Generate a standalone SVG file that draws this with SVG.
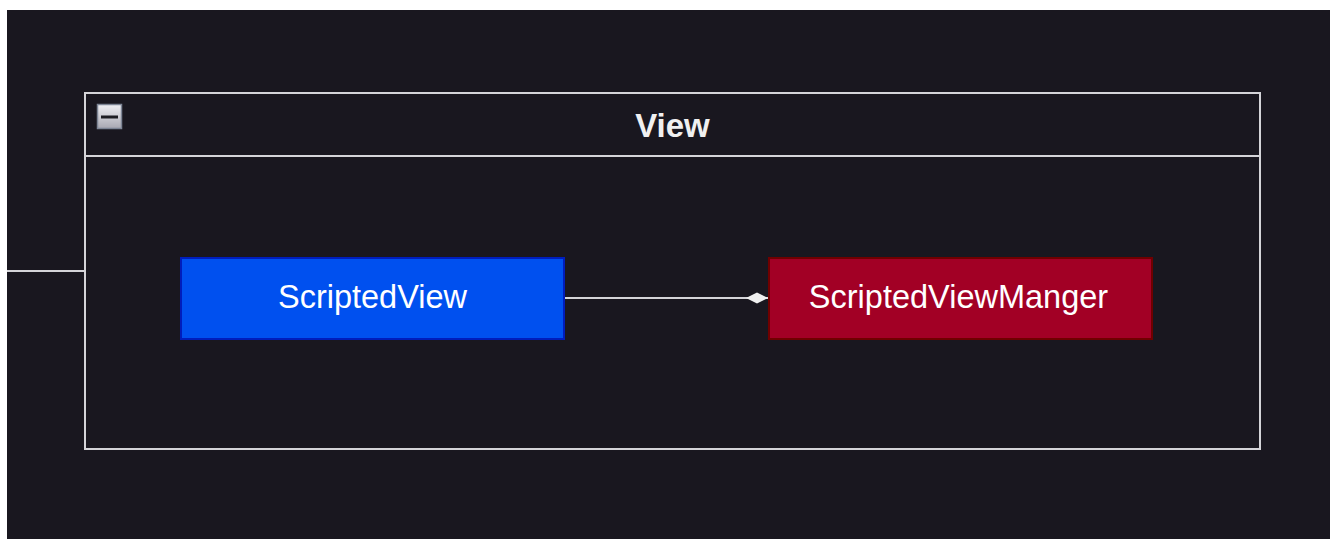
<svg xmlns="http://www.w3.org/2000/svg" width="1330" height="539" viewBox="0 0 1330 539">
  <style>
    .frame { fill: none; stroke: #d4d4d8; stroke-width: 2; }
    .edge { fill: none; stroke: #d4d4d8; stroke-width: 2; }
    .label { font-family: "Liberation Sans", Arial, sans-serif; font-size: 32.5px; fill: #ffffff; text-anchor: middle; }
    .title { font-family: "Liberation Sans", Arial, sans-serif; font-size: 33px; font-weight: bold; fill: #f0f0f0; text-anchor: middle; }
  </style>
  <defs>
    <linearGradient id="btnGrad" x1="0" y1="0" x2="0" y2="1">
      <stop offset="0" stop-color="#f0f0f4"/>
      <stop offset="1" stop-color="#a8a8b2"/>
    </linearGradient>
    <marker id="diamond" viewBox="0 0 22 12" refX="22" refY="6" markerWidth="22" markerHeight="12" markerUnits="userSpaceOnUse" orient="auto">
      <path d="M0,6 L11,0.5 L22,6 L11,11.5 Z" fill="#f0f0f0"/>
    </marker>
  </defs>

  <!-- page -->
  <rect x="0" y="0" width="1330" height="539" fill="#ffffff"/>
  <rect x="7" y="10" width="1323" height="529" fill="#19171f"/>

  <!-- View container -->
  <g id="view-group">
    <rect class="frame" x="85" y="93" width="1175" height="356"/>
    <line class="frame" x1="85" y1="156" x2="1260" y2="156"/>
    <text class="title" x="672.5" y="137">View</text>
    <g id="collapse-button">
      <rect x="97.5" y="104.5" width="24" height="24" fill="url(#btnGrad)" stroke="#7c8494" stroke-width="1.5"/>
      <rect x="101" y="115.5" width="17" height="3" fill="#1c1c22"/>
    </g>
  </g>

  <!-- connectors -->
  <g id="connectors">
    <line class="edge" x1="7" y1="271" x2="85" y2="271"/>
    <line class="edge" x1="565" y1="298" x2="768" y2="298" marker-end="url(#diamond)"/>
  </g>

  <!-- nodes -->
  <g id="scripted-view">
    <rect x="181" y="258" width="383" height="81" fill="#0050ef" stroke="#001dbc" stroke-width="2"/>
    <text class="label" x="372.5" y="308">ScriptedView</text>
  </g>
  <g id="scripted-view-manager">
    <rect x="769" y="258" width="383" height="81" fill="#a20025" stroke="#6f0000" stroke-width="2"/>
    <text class="label" x="958.5" y="308">ScriptedViewManger</text>
  </g>
</svg>
